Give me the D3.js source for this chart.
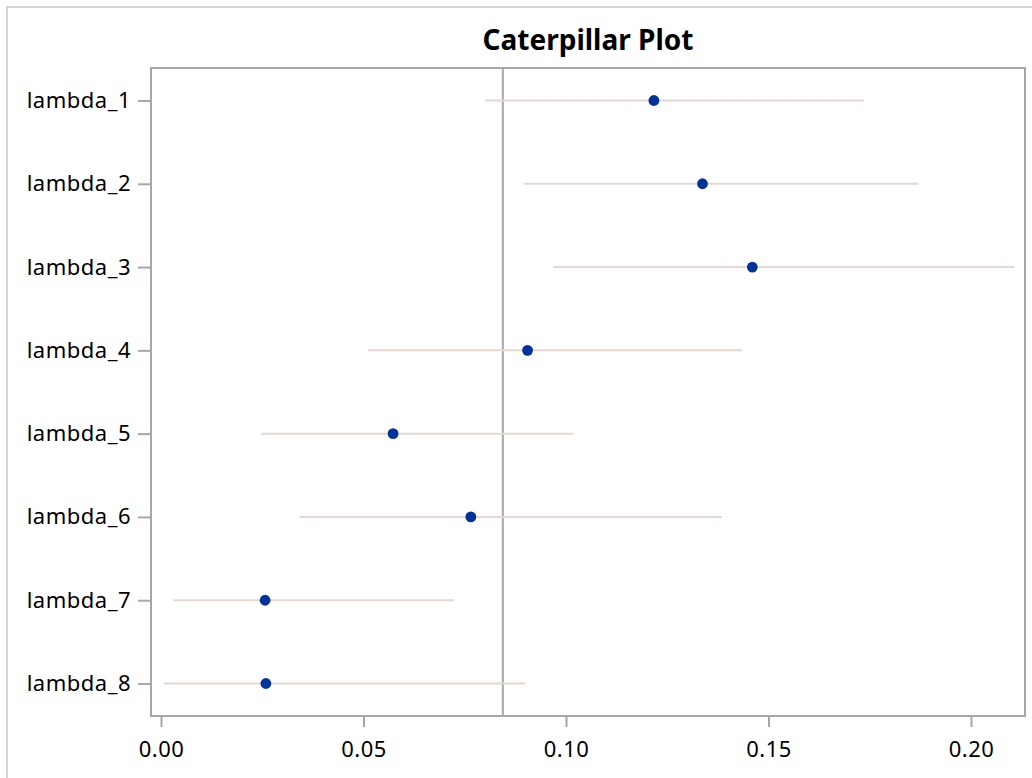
<!DOCTYPE html>
<html>
<head>
<meta charset="utf-8">
<script src="https://cdn.jsdelivr.net/npm/d3@7"></script>
<style>
  body { margin: 0; background: #fff; }
  svg text { font-family: "Noto Sans", "Open Sans", sans-serif; }
</style>
</head>
<body>
<svg width="1032" height="778"></svg>
<script>
// parameters and posterior summaries
var params = ["lambda_1", "lambda_2", "lambda_3", "lambda_4", "lambda_5", "lambda_6", "lambda_7", "lambda_8"];
var means  = [0.1217, 0.1337, 0.1460, 0.0905, 0.0573, 0.0765, 0.0257, 0.0259];
var lower  = [0.0800, 0.0895, 0.0968, 0.0511, 0.0247, 0.0342, 0.0030, 0.0007];
var upper  = [0.1736, 0.1870, 0.2106, 0.1434, 0.1018, 0.1385, 0.0723, 0.0899];
var refValue = 0.0844;
var xTicks = [0, 0.05, 0.10, 0.15, 0.20];

var svg = d3.select("svg");

// outer frame of the graph
svg.append("rect")
   .attr("x", 7).attr("y", 7)
   .attr("width", 1040).attr("height", 790)
   .attr("fill", "none")
   .attr("stroke", "#d4d4d4")
   .attr("stroke-width", 2);

var plotL = 151, plotT = 68, plotR = 1025, plotB = 716;

var x = d3.scaleLinear().domain([-0.00247, 0.21333]).range([plotL, plotR]);
var y = d3.scalePoint().domain(params).range([plotT, plotB]).padding(0.39);

var data = params.map(function(p, i) {
    return { name: p, mean: means[i], lo: lower[i], hi: upper[i] };
});

svg.append("text")
   .attr("x", (plotL + plotR) / 2)
   .attr("y", 50)
   .attr("text-anchor", "middle")
   .style("font-size", "28px")
   .style("font-weight", "bold")
   .attr("fill", "#000")
   .text("Caterpillar Plot");

// reference line at the overall mean
svg.append("line")
   .attr("x1", x(refValue)).attr("x2", x(refValue))
   .attr("y1", plotT).attr("y2", plotB)
   .attr("stroke", "#a3a8ae")
   .attr("stroke-width", 2);

// credible intervals
svg.selectAll(".interval")
   .data(data)
   .enter().append("line")
   .attr("class", "interval")
   .attr("x1", function(d) { return x(d.lo); })
   .attr("x2", function(d) { return x(d.hi); })
   .attr("y1", function(d) { return y(d.name); })
   .attr("y2", function(d) { return y(d.name); })
   .attr("stroke", "#e4d8d0")
   .attr("stroke-width", 2);

svg.selectAll(".dot")
   .data(data)
   .enter().append("circle")
   .attr("class", "dot")
   .attr("cx", function(d) { return x(d.mean); })
   .attr("cy", function(d) { return y(d.name); })
   .attr("r", 5.4)
   .attr("fill", "#003399");

// axes
var xAxis = svg.append("g")
   .attr("transform", "translate(0," + (plotB + 1) + ")")
   .call(d3.axisBottom(x).tickValues(xTicks).tickFormat(d3.format(".2f")).tickSize(10).tickPadding(14).tickSizeOuter(0));

var yAxis = svg.append("g")
   .attr("transform", "translate(" + (plotL - 1) + ",0)")
   .call(d3.axisLeft(y).tickSize(12).tickPadding(7).tickSizeOuter(0));

[xAxis, yAxis].forEach(function(a) {
    a.select(".domain").remove();
    a.selectAll("line").attr("stroke", "#a3a8ae").attr("stroke-width", 2);
    a.selectAll("text")
     .style("font-size", "22px")
     .style("letter-spacing", "0.5px")
     .attr("fill", "#000");
});

// plot frame
svg.append("rect")
   .attr("x", plotL).attr("y", plotT)
   .attr("width", plotR - plotL).attr("height", plotB - plotT)
   .attr("fill", "none")
   .attr("stroke", "#a3a8ae")
   .attr("stroke-width", 2);
</script>
</body>
</html>
